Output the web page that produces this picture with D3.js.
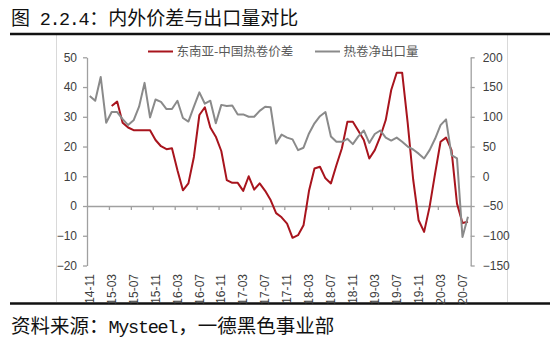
<!DOCTYPE html>
<html><head><meta charset="utf-8">
<script src="https://cdn.jsdelivr.net/npm/d3@7/dist/d3.min.js"></script>
<style>body{margin:0;background:#fff} svg{display:block}</style>
</head><body><svg id="c" width="550" height="345"></svg>
<script>
const categories = [
 "14-11","14-12",
 "15-01","15-02","15-03","15-04","15-05","15-06","15-07","15-08","15-09","15-10","15-11","15-12",
 "16-01","16-02","16-03","16-04","16-05","16-06","16-07","16-08","16-09","16-10","16-11","16-12",
 "17-01","17-02","17-03","17-04","17-05","17-06","17-07","17-08","17-09","17-10","17-11","17-12",
 "18-01","18-02","18-03","18-04","18-05","18-06","18-07","18-08","18-09","18-10","18-11","18-12",
 "19-01","19-02","19-03","19-04","19-05","19-06","19-07","19-08","19-09","19-10","19-11","19-12",
 "20-01","20-02","20-03","20-04","20-05","20-06","20-07","20-08"
];
// 东南亚-中国热卷价差 (left axis)
const spreadValues = [
 null,null,null,null,33.6,35.1,28,26.4,25.5,25.5,25.5,25.5,22.2,20.1,
 19.1,19.4,12,5.3,7.6,16.5,30.6,33.2,26.4,23.3,18.5,8.7,
 7.8,7.8,5.1,10,5.5,7.6,5.1,2,-2.4,-3.8,-5.9,-10.7,
 -9.8,-6.5,5.1,12.6,13.2,9.3,7.6,13.7,19.4,28.3,28.3,25.3,
 22.2,16,18.8,23.3,28.9,39,44.8,44.8,28,9,-4.8,-8.7,
 -0.3,10.9,21.6,23,18.8,0.8,-5.7,-5.3
];
// 热卷净出口量 (right axis)
const exportValues = [
 135,127,
 167,90,108,108,96,86,94,117,157,99,129,125,
 113,113,127,98,92,117,141,122,127,89,120,118,
 119,104,104,100,100,110,117,116,55,70,65,62,
 44,48,72,89,101,108,67,58,58,63,54,67,
 77,56,71,77,65,60,65,58,50,45,38,30,
 44,63,86,95.6,35.5,30,-102,-68
];
const xTickLabels = ["14-11","15-03","15-07","15-11","16-03","16-07","16-11","17-03","17-07","17-11","18-03","18-07","18-11","19-03","19-07","19-11","20-03","20-07"];
const leftTicks = [-20,-10,0,10,20,30,40,50];
const rightTicks = [-150,-100,-50,0,50,100,150,200];
const seriesNames = ["东南亚-中国热卷价差","热卷净出口量"];
const seriesColors = ["#a8141d","#8a8a8a"];

const svg = d3.select("#c");
svg.append("rect").attr("width",550).attr("height",345).attr("fill","#fff");

const L = 87, R = 470.7, T = 57.3, B = 265.5;
const axisColor = "#a0a0a0";
const cjk = "'Noto Sans CJK SC', sans-serif";
const num = "'Liberation Sans', Arial, sans-serif";

// chart border (light)
svg.append("line").attr("x1",56.5).attr("x2",56.5).attr("y1",35).attr("y2",302).attr("stroke","#d9d9d9");
svg.append("line").attr("x1",507.5).attr("x2",507.5).attr("y1",35).attr("y2",302).attr("stroke","#d9d9d9");

// title
const title = svg.append("text").attr("x",11).attr("y",25).attr("font-family",cjk).attr("font-size",19).attr("fill","#111");
title.append("tspan").text("图");
title.append("tspan").attr("font-family","'Liberation Mono', monospace").attr("font-size",18.5).attr("letter-spacing",-1.4).text(" 2.2.4");
title.append("tspan").attr("dx",1).text("：内外价差与出口量对比");
svg.append("line").attr("x1",10).attr("x2",550).attr("y1",34).attr("y2",34).attr("stroke","#111").attr("stroke-width",2.5);

// source
const src = svg.append("text").attr("x",11).attr("y",333).attr("font-family",cjk).attr("font-size",19.5).attr("fill","#111");
src.append("tspan").text("资料来源：");
src.append("tspan").attr("font-family","'Liberation Mono', monospace").attr("font-size",18.5).attr("letter-spacing",-1.3).text("Mysteel");
src.append("tspan").attr("dx",1).text("，一德黑色事业部");
svg.append("line").attr("x1",10).attr("x2",550).attr("y1",303.5).attr("y2",303.5).attr("stroke","#111").attr("stroke-width",2.5);

// scales
const x = d3.scaleBand().domain(categories).range([L,R]).paddingInner(0).paddingOuter(0);
const cx = c => x(c) + x.bandwidth()/2;
const xb = d3.scaleLinear().domain([0,categories.length]).range([L,R]);
const yL = d3.scaleLinear().domain([-20,50]).range([B,T]);
const yR = d3.scaleLinear().domain([-150,200]).range([B,T]);

function styleAxis(g){
  g.selectAll("path.domain").attr("stroke",axisColor).attr("stroke-width",1.3);
  g.selectAll(".tick line").attr("stroke",axisColor).attr("stroke-width",1.3);
  g.selectAll(".tick text").attr("fill","#404040").attr("font-family",num).attr("font-size",12);
}

// left axis
const gl = svg.append("g").attr("transform",`translate(${L},0)`)
  .call(d3.axisLeft(yL).tickValues(leftTicks).tickSize(4).tickSizeOuter(0).tickPadding(6));
styleAxis(gl);
// right axis
const gr = svg.append("g").attr("transform",`translate(${R},0)`)
  .call(d3.axisRight(yR).tickValues(rightTicks).tickSize(4).tickSizeOuter(0).tickPadding(8));
styleAxis(gr);

// category axis at zero
const gx = svg.append("g").attr("transform",`translate(0,${yL(0)})`)
  .call(d3.axisBottom(xb).tickValues(d3.range(4,categories.length,4)).tickSize(4).tickSizeOuter(0).tickFormat(""));
styleAxis(gx);

// category labels at bottom
const glab = svg.append("g").attr("transform",`translate(0,274)`)
  .call(d3.axisBottom(x).tickValues(xTickLabels).tickSize(0).tickPadding(0));
glab.select("path.domain").remove();
glab.selectAll(".tick text")
  .attr("transform","rotate(-90)").attr("text-anchor","end")
  .attr("x",0).attr("y",0).attr("dy","0.35em")
  .attr("fill","#404040").attr("font-family",num).attr("font-size",12);

// lines
const lineL = d3.line().defined(d=>d[1]!=null).x(d=>cx(d[0])).y(d=>yL(d[1]));
const lineR = d3.line().defined(d=>d[1]!=null).x(d=>cx(d[0])).y(d=>yR(d[1]));
svg.append("path").datum(categories.map((c,i)=>[c,spreadValues[i]]))
  .attr("d",lineL).attr("fill","none").attr("stroke",seriesColors[0]).attr("stroke-width",2).attr("stroke-linejoin","round");
svg.append("path").datum(categories.map((c,i)=>[c,exportValues[i]]))
  .attr("d",lineR).attr("fill","none").attr("stroke",seriesColors[1]).attr("stroke-width",2).attr("stroke-linejoin","round");

// legend
const legendPos = [[148,176.5],[315,343.5]];
seriesNames.forEach((n,i)=>{
  const [lx,tx] = legendPos[i];
  svg.append("line").attr("x1",lx).attr("x2",lx+25).attr("y1",51.5).attr("y2",51.5)
    .attr("stroke",seriesColors[i]).attr("stroke-width",2);
  svg.append("text").attr("x",tx).attr("y",56).attr("font-family",cjk).attr("font-size",12.5)
    .attr("fill","#595959").text(n);
});
</script>
</body></html>
